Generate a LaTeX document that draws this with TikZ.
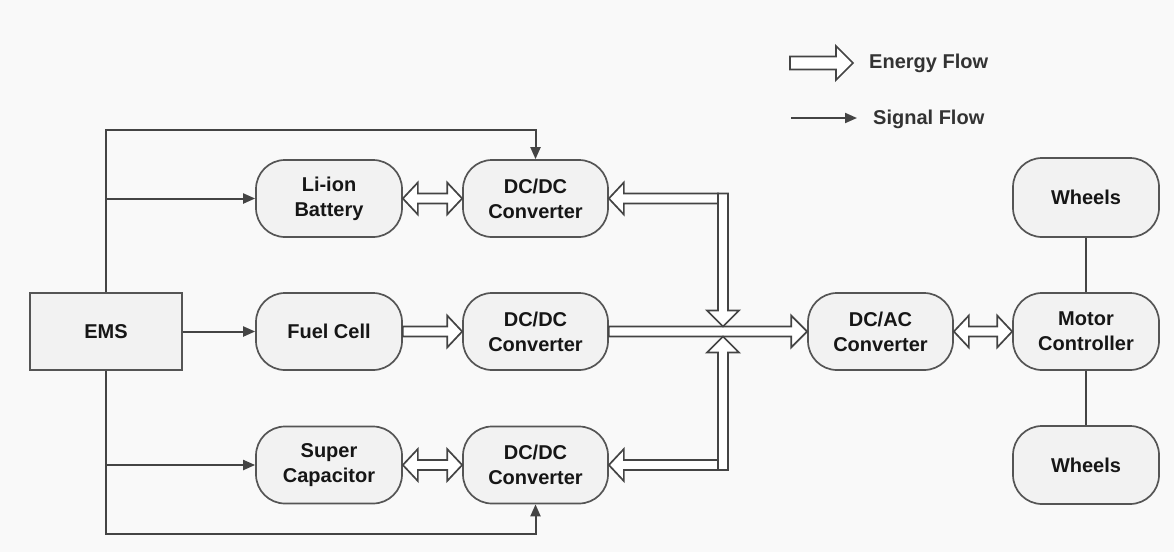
\documentclass[tikz,border=0pt]{standalone}
\usepackage{fontspec}
\setmainfont{Liberation Sans}
\usetikzlibrary{calc,arrows.meta}

\definecolor{bg}{HTML}{F9F9F9}
\definecolor{boxfill}{HTML}{F2F2F2}
\definecolor{edge}{HTML}{555555}
\definecolor{wire}{HTML}{444444}
\definecolor{ink}{HTML}{161616}
\definecolor{legendink}{HTML}{333333}

% sizes of the hollow energy arrows
\newcommand\efShaft{5pt}
\newcommand\efHead{16pt}
\newcommand\efLen{15pt}

% hollow single-headed arrow from #1 to #2
\newcommand\energyarrow[2]{%
  \coordinate (efc) at ($(#2)!\efLen!(#1)$);
  \filldraw[energy] ($(#1)!\efShaft!90:(#2)$) -- ($(efc)!\efShaft!90:(#2)$)
    -- ($(efc)!\efHead!90:(#2)$) -- (#2) -- ($(efc)!\efHead!-90:(#2)$)
    -- ($(efc)!\efShaft!-90:(#2)$) -- ($(#1)!\efShaft!-90:(#2)$) -- cycle;}

% hollow double-headed arrow between #1 and #2
\newcommand\energyboth[2]{%
  \coordinate (efa) at ($(#1)!\efLen!(#2)$);
  \coordinate (efb) at ($(#2)!\efLen!(#1)$);
  \filldraw[energy] (#1) -- ($(efa)!\efHead!90:(#2)$) -- ($(efa)!\efShaft!90:(#2)$)
    -- ($(efb)!\efShaft!90:(#2)$) -- ($(efb)!\efHead!90:(#2)$) -- (#2)
    -- ($(efb)!\efHead!-90:(#2)$) -- ($(efb)!\efShaft!-90:(#2)$)
    -- ($(efa)!\efShaft!-90:(#2)$) -- ($(efa)!\efHead!-90:(#2)$) -- cycle;}

\tikzset{
  box/.style={draw=edge, fill=boxfill, line width=1.7pt, rounded corners=29pt,
    minimum width=146pt, minimum height=77pt, align=center, inner sep=0pt,
    font=\fontsize{20}{25}\selectfont\bfseries, text=ink},
  emsbox/.style={box, rounded corners=0pt, minimum width=152pt},
  signal/.style={draw=wire, line width=2pt, -{Triangle[length=12pt,width=10pt]}},
  plain/.style={draw=wire, line width=2pt},
  energy/.style={draw=wire, fill=white, line width=1.7pt, line join=miter},
  legend/.style={anchor=west, inner sep=0pt, text=legendink,
    font=\fontsize{20}{25}\selectfont\bfseries},
}

\begin{document}
\begin{tikzpicture}[x=1pt, y=-1pt]
  \fill[bg] (0,0) rectangle (1174,552);
  \useasboundingbox (0,0) rectangle (1174,552);

  % blocks
  \node[emsbox] (ems) at (106,331.5) {EMS};
  \node[box] (li)  at (329,198.5) {Li-ion\\Battery};
  \node[box] (fc)  at (329,331.5) {Fuel Cell};
  \node[box] (sc)  at (329,465)   {Super\\Capacitor};
  \node[box, minimum width=145pt] (dc1) at (535.5,198.5) {DC/DC\\Converter};
  \node[box, minimum width=145pt] (dc2) at (535.5,331.5) {DC/DC\\Converter};
  \node[box, minimum width=145pt] (dc3) at (535.5,465)   {DC/DC\\Converter};
  \node[box, minimum width=145pt] (dcac) at (880.5,331.5) {DC/AC\\Converter};
  \node[box] (mc) at (1086,331.5) {Motor\\Controller};
  \node[box, minimum height=79pt] (w1) at (1086,197.5) {Wheels};
  \node[box, minimum height=78pt] (w2) at (1086,465) {Wheels};

  % signal wiring from the EMS
  \draw[signal] (ems.north) -- ++(0,-162) -| (dc1.north);
  \draw[signal] (ems.north |- li.west) -- (li.west);
  \draw[signal] (ems.east) -- (fc.west);
  \draw[signal] (ems.south |- sc.west) -- (sc.west);
  \draw[signal] (ems.south) -- ++(0,163) -| (dc3.south);

  % mechanical links
  \draw[plain] (w1.south) -- (mc.north);
  \draw[plain] (mc.south) -- (w2.north);

  % energy flow
  \energyboth{li.east}{dc1.west}
  \energyarrow{fc.east}{dc2.west}
  \energyboth{sc.east}{dc3.west}
  \energyboth{dcac.east}{mc.west}
  \renewcommand\efLen{16pt}
  \energyarrow{dc2.east}{dcac.west}

  % DC bus collecting the storage branches
  \coordinate (bus) at (723,331.5);
  \coordinate (busTop) at ($(bus |- dc1.east)+(0,-5)$);
  \coordinate (busTopTip) at ($(bus)+(0,-5)$);
  \coordinate (busBot) at ($(bus |- dc3.east)+(0,5)$);
  \coordinate (busBotTip) at ($(bus)+(0,5)$);
  \coordinate (busTopL) at ($(bus |- dc1.east)+(-5,0)$);
  \coordinate (busBotL) at ($(bus |- dc3.east)+(-5,0)$);
  \energyarrow{busTop}{busTopTip}
  \energyarrow{busBot}{busBotTip}
  \renewcommand\efLen{15pt}
  \energyarrow{busTopL}{dc1.east}
  \energyarrow{busBotL}{dc3.east}

  % legend
  \begin{scope}
    \renewcommand\efShaft{6.5pt}
    \renewcommand\efHead{17pt}
    \renewcommand\efLen{17pt}
    \coordinate (legEa) at (790,63);
    \coordinate (legEb) at (853,63);
    \energyarrow{legEa}{legEb}
  \end{scope}
  \node[legend] (legE) at (869,63) {Energy Flow};
  \coordinate (legSa) at (791,118);
  \coordinate (legSb) at (857,118);
  \draw[signal] (legSa) -- (legSb);
  \node[legend] (legS) at (873,119) {Signal Flow};
\end{tikzpicture}
\end{document}
